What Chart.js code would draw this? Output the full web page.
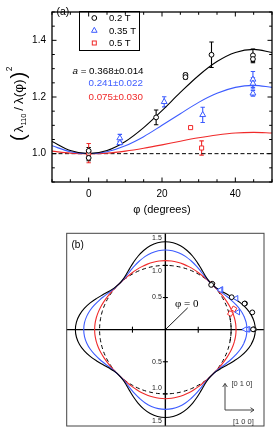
<!DOCTYPE html>
<html><head><meta charset="utf-8">
<script src="https://cdn.jsdelivr.net/npm/chart.js"></script>
<style>
html,body{margin:0;padding:0;background:#fff;}
#wrap{position:relative;width:278px;height:431px;overflow:hidden;background:#fff;}
canvas{position:absolute;left:0;}
#ca{top:0;width:278px;height:215px;}
#cb{top:215px;width:278px;height:216px;}
</style></head><body>
<div id="wrap"><canvas id="ca" width="278" height="215"></canvas><canvas id="cb" width="278" height="216"></canvas></div>
<script>
// ---------- data ----------
const seriesNames = ['0.2 T', '0.35 T', '0.5 T'];
const fitTexts = ['0.368±0.014', '0.241±0.022', '0.075±0.030'];
const xTickValues = [0, 20, 40];
const xTickLabels = ['0', '20', '40'];
const yTickValues = [1.0, 1.2, 1.4];
const yTickLabels = ['1.0', '1.2', '1.4'];
const polarTickValues = [0.5, 1.0, 1.5];
const polarTickLabels = ['0.5', '1.0', '1.5'];

const phi02 = [0, 0, 18.4, 26.4, 26.4, 33.5, 44.8, 44.8];
const val02 = [1.010, 0.985, 1.128, 1.278, 1.270, 1.349, 1.347, 1.334];
const err02 = [0.012, 0.010, 0.026, 0.006, 0.006, 0.045, 0.022, 0.013];

const phi035 = [8.5, 8.5, 20.6, 31.1, 44.8, 44.8, 44.8];
const val035 = [1.055, 1.038, 1.183, 1.137, 1.262, 1.248, 1.213];
const err035 = [0.013, 0.006, 0.018, 0.027, 0.028, 0.020, 0.010];

const phi05 = [0, 27.8, 30.8];
const val05 = [1.002, 1.092, 1.020];
const err05 = [0.034, 0.004, 0.025];

// fitted curves read at 5 degree steps
const fitPhi = [-10, -5, 0, 5, 10, 15, 20, 25, 30, 35, 40, 45, 50];
const fit02  = [1.043, 1.011, 1.000, 1.011, 1.043, 1.092, 1.152, 1.216, 1.276, 1.325, 1.357, 1.368, 1.357];
const fit035 = [1.028, 1.007, 1.000, 1.007, 1.028, 1.060, 1.100, 1.141, 1.181, 1.213, 1.234, 1.241, 1.234];
const fit05  = [1.009, 1.002, 1.000, 1.002, 1.009, 1.019, 1.031, 1.044, 1.056, 1.066, 1.073, 1.075, 1.073];
const refLevel = 1.0;
const phiZeroLen = 0.48;

// ---------- styles ----------
const BLACK = '#000000', BLUE = '#3d5cff', RED = '#f02a2a';
const SANS = '"Liberation Sans", Arial, Helvetica, sans-serif';
const SERIF = '"Liberation Serif", "Times New Roman", serif';

const pts = (xs, ys) => xs.map((x, i) => ({x: x, y: ys[i]}));

// ---------- panel (a) plugins ----------
const errorBars = {
  id: 'errorBars',
  beforeDatasetsDraw(chart) {
    const {ctx, scales: {x, y}} = chart;
    chart.data.datasets.forEach(ds => {
      if (!ds.errs) return;
      ctx.save();
      ctx.strokeStyle = ds.borderColor; ctx.lineWidth = 1.1;
      ds.data.forEach((p, i) => {
        const e = ds.errs[i];
        const px = x.getPixelForValue(p.x);
        const y1 = y.getPixelForValue(p.y + e), y2 = y.getPixelForValue(p.y - e);
        ctx.beginPath();
        ctx.moveTo(px, y1); ctx.lineTo(px, y2);
        ctx.moveTo(px - 2.2, y1); ctx.lineTo(px + 2.2, y1);
        ctx.moveTo(px - 2.2, y2); ctx.lineTo(px + 2.2, y2);
        ctx.stroke();
      });
      ctx.restore();
    });
  }
};

function line(ctx, x1, y1, x2, y2) { ctx.beginPath(); ctx.moveTo(x1, y1); ctx.lineTo(x2, y2); ctx.stroke(); }

const frameA = {
  id: 'frameA',
  afterDatasetsDraw(chart) {
    const {ctx, chartArea: a, scales: {x, y}} = chart;
    ctx.save();
    ctx.strokeStyle = '#000'; ctx.lineWidth = 1;
    x.ticks.forEach(t => {
      const px = x.getPixelForValue(t.value);
      const L = xTickValues.includes(t.value) ? 4.5 : 2.8;
      line(ctx, px, a.bottom, px, a.bottom - L);
      line(ctx, px, a.top, px, a.top + L);
    });
    y.ticks.forEach(t => {
      const py = y.getPixelForValue(t.value);
      const major = yTickValues.some(v => Math.abs(v - t.value) < 1e-6);
      const L = major ? 4.5 : 2.8;
      line(ctx, a.left, py, a.left + L, py);
      line(ctx, a.right, py, a.right - L, py);
    });
    ctx.lineWidth = 1.3;
    ctx.strokeRect(a.left, a.top, a.right - a.left, a.bottom - a.top);

    // legend box
    ctx.lineWidth = 1;
    ctx.strokeRect(79.5, 11.5, 60, 39);
    const rows = [18, 30.5, 43];
    ctx.font = '9.5px ' + SANS; ctx.textBaseline = 'middle'; ctx.fillStyle = '#000';
    rows.forEach((ry, i) => {
      ctx.lineWidth = 1;
      if (i === 0) { ctx.strokeStyle = BLACK; ctx.beginPath(); ctx.arc(94.3, ry, 2.4, 0, Math.PI * 2); ctx.stroke(); }
      if (i === 1) { ctx.strokeStyle = BLUE; ctx.beginPath(); ctx.moveTo(94.3, ry - 3.2); ctx.lineTo(97.1, ry + 1.8); ctx.lineTo(91.5, ry + 1.8); ctx.closePath(); ctx.stroke(); }
      if (i === 2) { ctx.strokeStyle = RED; ctx.strokeRect(92.3, ry - 2, 4, 4); }
      ctx.fillStyle = '#000';
      ctx.fillText(seriesNames[i], 109, ry + 0.5);
    });

    // fit parameter annotations
    ctx.font = 'italic 9.8px ' + SANS; ctx.fillStyle = BLACK;
    ctx.fillText('a', 72.5, 71);
    let w = ctx.measureText('a').width;
    ctx.font = '9.8px ' + SANS;
    ctx.fillText(' = ' + fitTexts[0], 72.5 + w, 71);
    ctx.fillStyle = BLUE; ctx.fillText(fitTexts[1], 88.5, 83.5);
    ctx.fillStyle = RED; ctx.fillText(fitTexts[2], 88.5, 97);

    // panel label
    ctx.fillStyle = '#000'; ctx.font = '10.5px ' + SANS;
    ctx.fillText('(a)', 56.5, 12.5);
    ctx.restore();
  },
  afterDraw(chart) {
    const {ctx, chartArea: a} = chart;
    ctx.save();
    ctx.fillStyle = '#000'; ctx.textBaseline = 'middle'; ctx.textAlign = 'center';
    ctx.font = '11px ' + SANS;
    ctx.fillText('φ (degrees)', (a.left + a.right) / 2, 209.5);
    // y title
    ctx.textAlign = 'left'; ctx.textBaseline = 'alphabetic';
    ctx.translate(22.5, 141); ctx.rotate(-Math.PI / 2);
    let x = 0;
    const seg = (t, size, dy, gap) => { ctx.font = size + 'px ' + SANS; ctx.fillText(t, x, dy); x += ctx.measureText(t).width + (gap || 0); };
    seg('(', 20, 2.5, 2);
    seg('λ', 13.5, 0);
    seg('110', 7.5, 3, 3);
    seg('/', 13.5, 0, 3);
    seg('λ(φ)', 13.5, 0, 1);
    seg(')', 20, 2.5, 0.5);
    seg('2', 8.5, -10.5);
    ctx.restore();
  }
};

// ---------- panel (a) chart ----------
new Chart(document.getElementById('ca'), {
  type: 'scatter',
  data: {
    datasets: [
      {label: seriesNames[0], data: pts(phi02, val02), errs: err02, pointStyle: 'circle', pointRadius: 2.4, borderColor: BLACK, backgroundColor: '#fff', borderWidth: 1},
      {label: seriesNames[1], data: pts(phi035, val035), errs: err035, pointStyle: 'triangle', pointRadius: 3.4, borderColor: BLUE, backgroundColor: '#fff', borderWidth: 1},
      {label: seriesNames[2], data: pts(phi05, val05), errs: err05, pointStyle: 'rect', pointRadius: 2.9, borderColor: RED, backgroundColor: '#fff', borderWidth: 1},
      {label: 'fit 0.2', data: pts(fitPhi, fit02), showLine: true, pointRadius: 0, borderColor: BLACK, borderWidth: 1.1, cubicInterpolationMode: 'monotone'},
      {label: 'fit 0.35', data: pts(fitPhi, fit035), showLine: true, pointRadius: 0, borderColor: BLUE, borderWidth: 1.1, cubicInterpolationMode: 'monotone'},
      {label: 'fit 0.5', data: pts(fitPhi, fit05), showLine: true, pointRadius: 0, borderColor: RED, borderWidth: 1.1, cubicInterpolationMode: 'monotone'},
      {label: 'ref', data: [{x: -10, y: refLevel}, {x: 50, y: refLevel}], showLine: true, pointRadius: 0, borderColor: BLACK, borderWidth: 1, borderDash: [4, 2.5]}
    ]
  },
  options: {
    responsive: false, animation: false, events: [],
    layout: {padding: {top: 1, right: 1, left: 0, bottom: 0}},
    plugins: {legend: {display: false}, tooltip: {enabled: false}},
    scales: {
      x: {
        type: 'linear', min: -10, max: 50,
        grid: {display: false, drawTicks: false}, border: {display: false},
        ticks: {stepSize: 5, autoSkip: false, maxRotation: 0, padding: 6, color: '#000', font: {family: SANS, size: 10},
          callback: v => { const i = xTickValues.indexOf(v); return i >= 0 ? xTickLabels[i] : ''; }},
        afterFit: s => { s.height = 33; }
      },
      y: {
        type: 'linear', min: 0.9, max: 1.5,
        grid: {display: false, drawTicks: false}, border: {display: false},
        ticks: {stepSize: 0.05, autoSkip: false, padding: 6, color: '#000', font: {family: SANS, size: 10},
          callback: v => { const i = yTickValues.findIndex(t => Math.abs(t - v) < 1e-6); return i >= 0 ? yTickLabels[i] : ''; }},
        afterFit: s => { s.width = 52; }
      }
    }
  },
  plugins: [errorBars, frameA]
});

// ---------- panel (b) ----------
const DEG = Math.PI / 180;
function toPolar(phis, vals) { // direction of phi = 0 is the [1 1 0] diagonal
  return phis.map((p, i) => ({x: vals[i] * Math.cos((45 - p) * DEG), y: vals[i] * Math.sin((45 - p) * DEG)}));
}
function polarCurve(fit) { // fit read at phi = 0..45 (step 5), repeated by symmetry
  const v = fit.slice(2, 12);
  const out = [];
  for (let th = -10; th <= 370; th += 5) {
    let t = ((th % 90) + 90) % 90; if (t > 45) t = 90 - t;
    const r = v[(45 - t) / 5];
    out.push({x: r * Math.cos(th * DEG), y: r * Math.sin(th * DEG)});
  }
  return out;
}
function refCircle() {
  const out = [];
  for (let th = -10; th <= 370; th += 5) out.push({x: refLevel * Math.cos(th * DEG), y: refLevel * Math.sin(th * DEG)});
  return out;
}

const labelShift = [0, 6, 4.5];
const frameB = {
  id: 'frameB',
  beforeDatasetsDraw(chart) {
    const {ctx, chartArea: a, scales: {x, y}} = chart;
    const cx = x.getPixelForValue(0), cy = y.getPixelForValue(0);
    ctx.save();
    ctx.strokeStyle = '#000'; ctx.lineWidth = 1.4;
    line(ctx, a.left, cy, a.right, cy);
    line(ctx, cx, a.top, cx, a.bottom);
    ctx.lineWidth = 1.1;
    [-0.5, 0.5].forEach(v => { const px = x.getPixelForValue(v); line(ctx, px, cy - 3, px, cy + 3); });
    [-1, -0.5, 0.5, 1].forEach(v => { const py = y.getPixelForValue(v); line(ctx, cx - 2.5, py, cx + 2.5, py); });
    ctx.restore();
  },
  afterDatasetsDraw(chart) {
    const {ctx, chartArea: a, scales: {x, y}} = chart;
    const cx = x.getPixelForValue(0), cy = y.getPixelForValue(0);
    ctx.save();
    ctx.strokeStyle = '#444'; ctx.lineWidth = 1;
    ctx.strokeRect(a.left, a.top, a.right - a.left, a.bottom - a.top);
    // tick labels on vertical axis
    ctx.fillStyle = '#222'; ctx.font = '7px ' + SANS; ctx.textAlign = 'right'; ctx.textBaseline = 'middle';
    polarTickValues.forEach((v, i) => {
      const up = y.getPixelForValue(v) + labelShift[i];
      const dn = y.getPixelForValue(-v) - labelShift[i];
      ctx.fillText(polarTickLabels[i], cx - 3.5, up);
      ctx.fillText(polarTickLabels[i], cx - 3.5, dn);
    });
    // phi = 0 label
    ctx.textAlign = 'left'; ctx.fillStyle = '#000';
    ctx.font = '11px ' + SERIF;
    ctx.fillText('φ = 0', 175, 89.5);
    ctx.font = '10px ' + SANS;
    ctx.fillText('(b)', 71.5, 30);
    // crystal axes
    ctx.strokeStyle = '#444'; ctx.lineWidth = 1;
    const ox = 225, oy = 195;
    line(ctx, ox, oy, ox, 168.5);
    line(ctx, ox - 2.3, 172, ox, 168.5); line(ctx, ox + 2.3, 172, ox, 168.5);
    line(ctx, ox, oy, 254, oy);
    line(ctx, 250.5, oy - 2.3, 254, oy); line(ctx, 250.5, oy + 2.3, 254, oy);
    ctx.fillStyle = '#333'; ctx.font = '7.5px ' + SANS;
    ctx.fillText('[0 1 0]', 231.5, 168.5);
    ctx.fillText('[1 0 0]', 233, 206.5);
    ctx.restore();
  }
};

new Chart(document.getElementById('cb'), {
  type: 'scatter',
  data: {
    datasets: [
      {label: seriesNames[0], data: toPolar(phi02, val02), pointStyle: 'circle', pointRadius: 2.4, borderColor: BLACK, backgroundColor: '#fff', borderWidth: 1},
      {label: seriesNames[1], data: toPolar(phi035, val035), pointStyle: 'triangle', pointRotation: 270, pointRadius: 3.2, borderColor: BLUE, backgroundColor: '#fff', borderWidth: 1},
      {label: seriesNames[2], data: toPolar(phi05, val05), pointStyle: 'rect', pointRotation: 30, pointRadius: 3.0, borderColor: RED, backgroundColor: '#fff', borderWidth: 1},
      {label: 'fit 0.2', data: polarCurve(fit02), showLine: true, pointRadius: 0, borderColor: BLACK, borderWidth: 1.1, tension: 0.4},
      {label: 'fit 0.35', data: polarCurve(fit035), showLine: true, pointRadius: 0, borderColor: BLUE, borderWidth: 1.1, tension: 0.4},
      {label: 'fit 0.5', data: polarCurve(fit05), showLine: true, pointRadius: 0, borderColor: RED, borderWidth: 1.1, tension: 0.4},
      {label: 'ref', data: refCircle(), showLine: true, pointRadius: 0, borderColor: BLACK, borderWidth: 1, borderDash: [4, 3], tension: 0.4},
      {label: 'phi0', data: [{x: 0, y: 0}, {x: phiZeroLen * Math.cos(45 * DEG), y: phiZeroLen * Math.sin(45 * DEG)}], showLine: true, pointRadius: 0, borderColor: BLACK, borderWidth: 0.9}
    ]
  },
  options: {
    responsive: false, animation: false, events: [],
    layout: {padding: {top: 18.3, right: 14, left: 66.7, bottom: 1}},
    plugins: {legend: {display: false}, tooltip: {enabled: false}},
    scales: {
      x: {type: 'linear', min: -1.5, max: 1.5, display: false},
      y: {type: 'linear', min: -1.5, max: 1.5, display: false}
    }
  },
  plugins: [frameB]
});
</script>
</body></html>
